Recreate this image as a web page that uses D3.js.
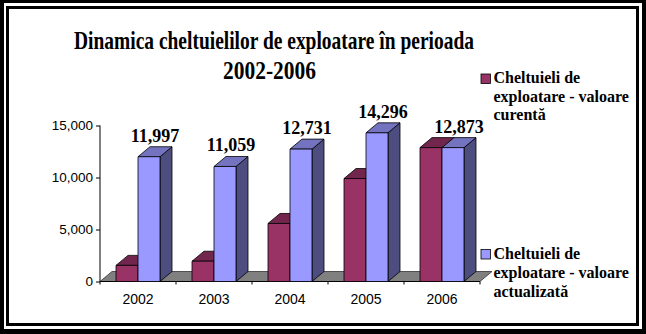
<!DOCTYPE html>
<html>
<head>
<meta charset="utf-8">
<script src="https://cdn.jsdelivr.net/npm/d3@7"></script>
<style>
  html, body { margin: 0; padding: 0; background: #fff; }
  svg { display: block; }
</style>
</head>
<body>
<svg id="chart" width="646" height="334"></svg>
<script>
// Operating expenses 2002-2006
const years = ["2002", "2003", "2004", "2005", "2006"];
const valoareCurenta = [1550, 1950, 5580, 9900, 12873];
const valoareActualizata = [11997, 11059, 12731, 14296, 12873];
const yTicks = [0, 5000, 10000, 15000];
const seriesNames = [
  ["Cheltuieli de", "exploatare - valoare", "curentă"],
  ["Cheltuieli de", "exploatare - valoare", "actualizată"]
];
const titleLines = ["Dinamica cheltuielilor de exploatare în perioada", "2002-2006"];

const seriesColors = [
  { front: "#993366", top: "#73264d", side: "#4d1a33" },
  { front: "#9999ff", top: "#7373bf", side: "#4d4d80" }
];

const svg = d3.select("#chart");
const W = 646, H = 334;

// double frame
svg.append("rect").attr("x", 0).attr("y", 0).attr("width", W).attr("height", H).attr("fill", "#000");
svg.append("rect").attr("x", 4).attr("y", 3).attr("width", 638).attr("height", 326).attr("fill", "#fff");
svg.append("rect").attr("x", 6).attr("y", 6).attr("width", 633).attr("height", 320).attr("fill", "#000");
svg.append("rect").attr("x", 9).attr("y", 9).attr("width", 627).attr("height", 314).attr("fill", "#fff");

// scales
const x = d3.scaleBand().domain(years).range([100, 480]).paddingInner(0).paddingOuter(0);
const xs = d3.scaleBand().domain([0, 1]).range([16, 60]);
const y = d3.scaleLinear().domain([0, 15000]).range([281.5, 125.5]);
const depthX = 12, depthY = -10;

const series = [valoareCurenta, valoareActualizata];

// floor
const x0 = x.range()[0], x1 = x.range()[1], y0 = y(0);
svg.append("path")
  .attr("d", `M${x0},${y0} L${x1},${y0} L${x1 + depthX},${y0 + depthY} L${x0 + depthX},${y0 + depthY} Z`)
  .attr("fill", "#808080")
  .attr("stroke", "#333")
  .attr("stroke-width", 0.8);

// y axis
const yAxis = svg.append("g")
  .attr("transform", `translate(${x0},0)`)
  .call(d3.axisLeft(y).tickValues(yTicks).tickFormat(d3.format(",")).tickSize(4).tickPadding(3));
yAxis.select(".domain").attr("d", `M0,${y(15000)}V${y(0)}`).attr("stroke", "#000");
yAxis.selectAll(".tick line").attr("stroke", "#000");
yAxis.selectAll("text")
  .attr("font-family", "Liberation Sans, Arial, sans-serif")
  .attr("font-size", 13.5)
  .attr("fill", "#000");

// x axis: labels centred, ticks at category boundaries
const xAxis = svg.append("g")
  .attr("transform", `translate(0,${y0})`)
  .call(d3.axisBottom(x).tickSize(0).tickPadding(12.5));
xAxis.select(".domain").attr("d", `M${x0},0H${x1}`).attr("stroke", "#000");
xAxis.selectAll("text")
  .attr("font-family", "Liberation Sans, Arial, sans-serif")
  .attr("font-size", 14)
  .attr("fill", "#000");
const bounds = years.map(d => x(d)).concat([x1]);
xAxis.selectAll("line.bound")
  .data(bounds)
  .join("line")
  .attr("class", "bound")
  .attr("x1", d => d).attr("x2", d => d)
  .attr("y1", 0).attr("y2", 3)
  .attr("stroke", "#000");

// 3D bars
const bars = svg.append("g");
years.forEach((yr, i) => {
  series.forEach((vals, s) => {
    const v = vals[i];
    const bx = x(yr) + xs(s), bw = xs.bandwidth();
    const top = y(v), bot = y(0);
    const c = seriesColors[s];
    const g = bars.append("g").attr("stroke", "#000").attr("stroke-width", 0.8).attr("stroke-linejoin", "round");
    // side face
    g.append("path")
      .attr("d", `M${bx + bw},${bot} L${bx + bw + depthX},${bot + depthY} L${bx + bw + depthX},${top + depthY} L${bx + bw},${top} Z`)
      .attr("fill", c.side);
    // top face
    g.append("path")
      .attr("d", `M${bx},${top} L${bx + depthX},${top + depthY} L${bx + bw + depthX},${top + depthY} L${bx + bw},${top} Z`)
      .attr("fill", c.top);
    // front face
    g.append("rect")
      .attr("x", bx).attr("y", top)
      .attr("width", bw).attr("height", bot - top)
      .attr("fill", c.front);
  });
});

// value labels on the updated-value bars
svg.append("g")
  .selectAll("text")
  .data(years)
  .join("text")
  .attr("x", d => x(d) + xs(1) + xs.bandwidth() / 2 + depthX / 2)
  .attr("y", (d, i) => y(valoareActualizata[i]) + depthY - 5)
  .attr("text-anchor", "middle")
  .attr("font-family", "Liberation Serif, Times New Roman, serif")
  .attr("font-weight", "bold")
  .attr("font-size", 18)
  .attr("fill", "#000")
  .text((d, i) => d3.format(",")(valoareActualizata[i]));

// title
const title = svg.append("g")
  .attr("font-family", "Liberation Serif, Times New Roman, serif")
  .attr("font-weight", "bold")
  .attr("font-size", 25)
  .attr("fill", "#000");
title.append("text").attr("x", 74).attr("y", 49.3)
  .attr("textLength", 400).attr("lengthAdjust", "spacingAndGlyphs")
  .text(titleLines[0]);
title.append("text").attr("x", 223).attr("y", 79.3)
  .attr("textLength", 93).attr("lengthAdjust", "spacingAndGlyphs")
  .text(titleLines[1]);

// legend
const legendTops = [74, 249.5];
const legendBaselines = [[83.3, 101.6, 119.8], [259.2, 278, 296.6]];
const legend = svg.append("g");
seriesNames.forEach((lines, s) => {
  legend.append("rect")
    .attr("x", 481).attr("y", legendTops[s])
    .attr("width", 9.5).attr("height", 9.5)
    .attr("fill", seriesColors[s].front)
    .attr("stroke", "#000").attr("stroke-width", 0.8);
  lines.forEach((t, k) => {
    legend.append("text")
      .attr("x", 493.5).attr("y", legendBaselines[s][k])
      .attr("font-family", "Liberation Serif, Times New Roman, serif")
      .attr("font-weight", "bold")
      .attr("font-size", 16)
      .attr("fill", "#000")
      .text(t);
  });
});
</script>
</body>
</html>
